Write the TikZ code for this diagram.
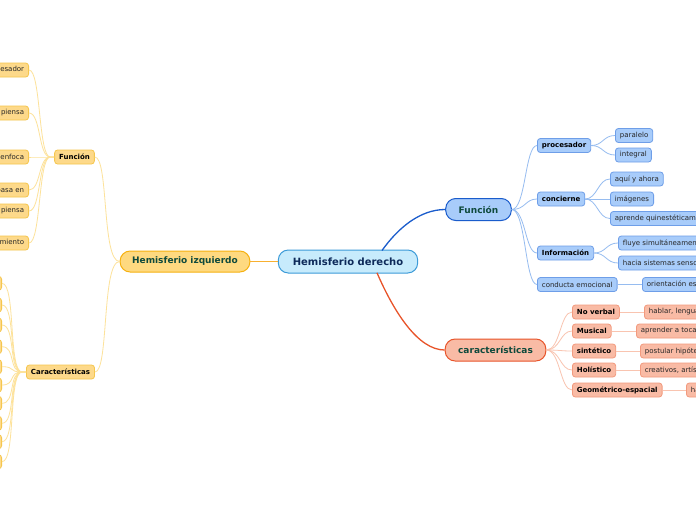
\documentclass[tikz,border=0pt]{standalone}
\usepackage{fontspec}
\setmainfont{DejaVu Sans}
\definecolor{yfill}{HTML}{FDD98A}
\definecolor{yline}{HTML}{F5C64E}
\definecolor{hifill}{HTML}{FED980}
\definecolor{hiline}{HTML}{F6B110}
\definecolor{ylink}{HTML}{FDE29A}
\definecolor{bfill}{HTML}{A8CCFA}
\definecolor{bline}{HTML}{6E9EE8}
\definecolor{blink}{HTML}{96BCF0}
\definecolor{fline}{HTML}{1A5CCC}
\definecolor{hdfill}{HTML}{C7EBFC}
\definecolor{hdline}{HTML}{3C9BD8}
\definecolor{sfill}{HTML}{F9BBA5}
\definecolor{sline}{HTML}{F29A7E}
\definecolor{slink}{HTML}{F9C4B0}
\definecolor{cline}{HTML}{E8542A}
\definecolor{gtext}{HTML}{0F4A3C}
\definecolor{ntext}{HTML}{0D2A5A}
\definecolor{olink}{HTML}{F8B030}
\begin{document}
\begin{tikzpicture}[x=1pt,y=-1pt,
  small/.style={draw, rounded corners=3pt, line width=0.8pt, minimum height=14pt, inner xsep=4.5pt, inner ysep=0pt, font=\fontsize{7}{8}\selectfont, text=black!85},
  smallb/.style={small, font=\bfseries\fontsize{7}{8}\selectfont, text=black},
  ysm/.style={fill=yfill, draw=yline},
  bsm/.style={fill=bfill, draw=bline},
  ssm/.style={fill=sfill, draw=sline},
  big/.style={draw, rounded corners=10pt, line width=1pt, minimum height=22pt, inner ysep=0pt, font=\bfseries\fontsize{9}{10}\selectfont},
  ylk/.style={draw=ylink, line width=0.8pt},
  blk/.style={draw=blink, line width=0.8pt},
  slk/.style={draw=slink, line width=0.8pt}
]
\path[use as bounding box, clip] (0,0) rectangle (696,520);
\fill[white] (0,0) rectangle (696,520);

% central
\node[big, fill=hdfill, draw=hdline, text=ntext, inner xsep=14.5pt, font=\bfseries\fontsize{10}{11}\selectfont, minimum height=23pt] (hd) at (348,261.5) {Hemisferio derecho};
\node[big, fill=hifill, draw=hiline, text=gtext, inner xsep=12pt, minimum height=21pt] (hi) at (185,261.5) {Hemisferio izquierdo};

% right main
\node[big, fill=bfill, draw=fline, text=gtext, inner xsep=13pt] (fr) at (478.5,209.5) {Función};
\node[big, fill=sfill, draw=cline, text=gtext, inner xsep=13pt] (cr) at (495.5,350) {características};

% left main
\node[smallb, ysm] (fl) at (74.5,157) {Función};
\node[smallb, ysm] (cl) at (60.5,372) {Características};

% right Función children
\node[smallb, bsm, anchor=west] (proc) at (537,145.5) {procesador};
\node[smallb, bsm, anchor=west] (conc) at (537,199) {concierne};
\node[smallb, bsm, anchor=west] (info) at (537,253) {Información};
\node[small, bsm, anchor=west] (cond) at (537,284.5) {conducta emocional};

\node[small, bsm, anchor=west] (par) at (615,135.5) {paralelo};
\node[small, bsm, anchor=west] (int) at (615,155) {integral};
\node[small, bsm, anchor=west] (aqui) at (610,179) {aquí y ahora};
\node[small, bsm, anchor=west] (img) at (610,199) {imágenes};
\node[small, bsm, anchor=west] (apr) at (610,218.5) {aprende quinestéticamente};
\node[small, bsm, anchor=west] (fluye) at (618,243) {fluye simultáneamente};
\node[small, bsm, anchor=west] (hacia) at (618,263) {hacia sistemas sensoriales};
\node[small, bsm, anchor=west] (orie) at (642,284.5) {orientación espacial};

% right características children
\node[smallb, ssm, anchor=west] (nv) at (572,312) {No verbal};
\node[smallb, ssm, anchor=west] (mus) at (572,331) {Musical};
\node[smallb, ssm, anchor=west] (sin) at (572,351) {sintético};
\node[smallb, ssm, anchor=west] (hol) at (572,370) {Holístico};
\node[smallb, ssm, anchor=west] (geo) at (572,390) {Geométrico-espacial};

\node[small, ssm, anchor=west] (hab) at (644,312) {hablar, lenguaje};
\node[small, ssm, anchor=west] (toc) at (636,331) {aprender a tocar};
\node[small, ssm, anchor=west] (pos) at (640,351) {postular hipótesis};
\node[small, ssm, anchor=west] (cre) at (640,370) {creativos, artísticos};
\node[small, ssm, anchor=west] (hh) at (686,390) {habilidades};

% left Función children
\node[small, ysm, anchor=east] (l1) at (29,70) {procesador};
\node[small, ysm, anchor=east] (l2) at (29,113) {piensa};
\node[small, ysm, anchor=east] (l3) at (29,157) {se enfoca};
\node[small, ysm, anchor=east] (l4) at (29,190) {se basa en};
\node[small, ysm, anchor=east] (l5) at (29,211) {piensa};
\node[small, ysm, anchor=east] (l6) at (29,243) {pensamiento};

% left Características children (off canvas)
\foreach \i/\yy in {1/283.3,2/305,3/325,4/346.7,5/366.7,6/385,7/403.3,8/423.3,9/441.7,10/461.7}{
  \node[small, ysm, anchor=east, minimum width=30pt] (k\i) at (2,\yy) {};
}

% central links
\draw[color=olink, line width=1.2pt] (hd.west) -- (hi.east);
\draw[draw=fline, line width=1.3pt] (382,250.5) .. controls (398,228) and (420,209.5) .. (fr.west);
\draw[draw=cline, line width=1.3pt] (377,272.8) .. controls (394,312) and (418,350) .. (cr.west);

% left main links
\draw[ylk] (hi.west) .. controls +(-18,0) and +(14,0) .. (fl.east);
\draw[ylk] (hi.west) .. controls +(-18,0) and +(14,0) .. (cl.east);

% left Función links
\foreach \c in {l1,l2,l3,l4,l5,l6}{
  \draw[ylk] (fl.west) -- +(-4,0) .. controls +(-12,0) and +(12,0) .. (\c.east);
}
\foreach \i in {1,...,10}{
  \draw[ylk] (cl.west) -- +(-4,0) .. controls +(-14,0) and +(14,0) .. (k\i.east);
}

% right Función links
\foreach \c in {proc,conc,info,cond}{
  \draw[blk] (fr.east) .. controls +(14,0) and +(-12,0) .. (\c.west);
}
\foreach \p/\c in {proc/par,proc/int,conc/aqui,conc/img,conc/apr,info/fluye,info/hacia,cond/orie}{
  \draw[blk] (\p.east) .. controls +(12,0) and +(-12,0) .. (\c.west);
}

% right características links
\foreach \c in {nv,mus,sin,hol,geo}{
  \draw[slk] (cr.east) .. controls +(14,0) and +(-12,0) .. (\c.west);
}
\foreach \p/\c in {nv/hab,mus/toc,sin/pos,hol/cre,geo/hh}{
  \draw[slk] (\p.east) -- (\c.west);
}
\end{tikzpicture}
\end{document}
